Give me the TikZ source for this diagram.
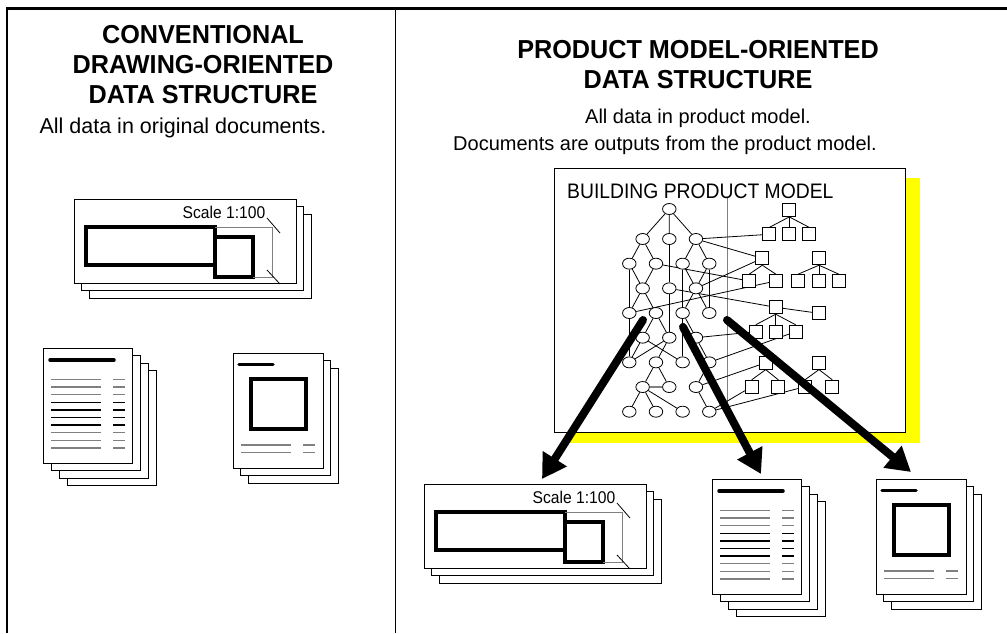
\documentclass[tikz,border=0pt]{standalone}
\usepackage{fontspec}
\setmainfont{Liberation Sans}
\usetikzlibrary{arrows.meta,shapes.geometric}
\pgfdeclarelayer{back}
\pgfdeclarelayer{edges}
\pgfsetlayers{back,edges,main}

\definecolor{shadowyellow}{RGB}{255,255,0}
\colorlet{dimgray}{black!50}

\tikzset{
  obj/.style={draw,ellipse,fill=white,inner sep=0pt,minimum width=13.5pt,minimum height=11pt,line width=0.8pt},
  geo/.style={draw,rectangle,fill=white,inner sep=0pt,minimum size=13pt,line width=0.8pt},
  sheet/.style={draw,fill=white,line width=0.8pt},
  thickline/.style={line width=3.5pt,line cap=round},
  heading/.style={font=\bfseries\fontsize{26}{30}\selectfont,align=center,xscale=0.97},
  subtext/.style={font=\fontsize{20}{24}\selectfont},
  bigarrow/.style={line width=8pt,line cap=round,-{Triangle[length=24pt,width=27pt]}},
}

% wide plan sheet, three deep
\newcommand{\planstack}[3]{%
\begin{scope}[shift={(#1,#2)}]
\draw[sheet] (15,15) rectangle ++(222,84);
\draw[sheet] (7.5,7.5) rectangle ++(222,84);
\draw[sheet] (0,0) rectangle (222,84);
\draw[line width=3.5pt] (12,28) rectangle (141,66);
\draw[line width=3.5pt,fill=white] (141,38) rectangle (179,78);
\draw[dimgray,line width=0.8pt] (141,28) -- (198,28) -- (198,78) -- (179,78);
\draw[line width=0.8pt] (193,19) -- (206,34);
\draw[line width=0.8pt] (193,71) -- (206,85);
\node[font=\fontsize{17}{17}\selectfont,xscale=0.92] (#3) at (150,13) {Scale 1:100};
\end{scope}}

% text sheet, four deep
\newcommand{\liststack}[2]{%
\begin{scope}[shift={(#1,#2)}]
\foreach \k in {3,2,1}
  \draw[sheet] (8*\k,7.6*\k) rectangle ++(89,115);
\draw[sheet] (0,0) rectangle (89,115);
\draw[thickline] (7,12) -- (71,12);
\foreach \r/\c in {0/dimgray,1/dimgray,2/dimgray,3/black,4/black,5/black,6/black,7/dimgray,8/dimgray,9/dimgray} {
  \draw[\c,line width=1.3pt] (8,31.5+7.6*\r) -- (58,31.5+7.6*\r);
  \draw[\c,line width=1.3pt] (70,31.5+7.6*\r) -- (82,31.5+7.6*\r);
}
\end{scope}}

% detail sheet, three deep
\newcommand{\detailstack}[2]{%
\begin{scope}[shift={(#1,#2)}]
\foreach \k in {2,1}
  \draw[sheet] (7.5*\k,7.5*\k) rectangle ++(90,115);
\draw[sheet] (0,0) rectangle (90,115);
\draw[thickline] (6,11.5) -- (40,11.5);
\draw[line width=3.5pt] (18,26) rectangle (73,76);
\draw[dimgray,line width=1.3pt] (8,92) -- (58,92) (8,99.5) -- (58,99.5)
  (70,92) -- (82,92) (70,99.5) -- (82,99.5);
\end{scope}}

\begin{document}
\begin{tikzpicture}[x=1pt,y=-1pt]
\useasboundingbox (0,0) rectangle (1007,633);

% frame
\draw[line width=2.2pt] (7,633) -- (7,8.5) -- (1007,8.5);
\draw[line width=1.8pt] (395.5,8.5) -- (395.5,633);

% left half
\node[heading] (lefttitle) at (203,65) {CONVENTIONAL\\DRAWING-ORIENTED\\DATA STRUCTURE};
\node[subtext,font=\fontsize{21.5}{24}\selectfont] (leftnote) at (183,128) {All data in original documents.};
\planstack{74}{199}{leftscale}
\liststack{43}{348}
\detailstack{233}{353}

% right half
\node[heading] (righttitle) at (698,64.5) {PRODUCT MODEL-ORIENTED\\DATA STRUCTURE};
\node[subtext] (rightnote) at (698,118) {All data in product model.};
\node[subtext] (rightnotetwo) at (665,145) {Documents are outputs from the product model.};

\begin{pgfonlayer}{back}
\fill[shadowyellow] (569,178) rectangle (920,443);
\draw[fill=white,line width=0.8pt] (554,168) rectangle (905,432);
\draw[dimgray,line width=1pt] (727.3,198) -- (727.3,410);
\end{pgfonlayer}
\node[anchor=base west,font=\fontsize{21}{21}\selectfont,xscale=0.92,inner sep=0pt] (modelname) at (567,198) {BUILDING PRODUCT MODEL};

% object graph
\node[obj] (a) at (669.3,209) {};
\foreach \n/\c/\r in {b1/1/1,b2/3/1,b3/5/1,
  c1/0/2,c2/2/2,c3/4/2,c4/6/2,
  d1/1/3,d2/3/3,d3/5/3,
  e1/0/4,e2/2/4,e3/4/4,e4/6/4,
  f1/1/5,f2/3/5,f3/5/5,
  g1/0/6,g2/2/6,g3/4/6,g4/6/6,
  h1/1/7,h2/3/7,h3/5/7,
  i1/0/8,i2/2/8,i3/4/8,i4/6/8}
  \node[obj] (\n) at ({629.3+13.33*\c},{239+24.67*(\r-1)}) {};

% geometry trees
\foreach \n/\x/\y in {A0/789.3/210,A1/769.3/234.3,A2/789.3/234.3,A3/809.3/234.3,
  B0/762.3/258.3,B1/749.3/281,B2/775.7/281,
  C0/819/258.3,C1/798.3/281,C2/819/281,C3/838.7/281,
  D0/775.7/307.3,Dx/819/313.3,D1/755.7/331.7,D2/775.7/331.7,D3/795.7/331.7,
  E0/765.7/362.7,E1/751.7/386.7,E2/778.3/386.7,
  F0/819/362.7,F1/805/386.7,F2/832.3/386.7}
  \node[geo] (\n) at (\x,\y) {};

\begin{pgfonlayer}{edges}
\foreach \p/\q in {a/b1,a/b2,a/b3,b1/c1,b1/c2,b2/d2,b3/c3,b3/c4,
  c1/d1,c2/d1,c3/d3,c4/d3,c1/e1,c3/e3,c4/e4,d2/f2,
  d1/e1,d1/e2,d3/e3,d3/e4,e1/g1,e3/g3,
  e2/f1,e2/f2,e3/f3,f1/g1,f1/g3,f2/g1,f2/g2,f3/g4,
  g2/h1,g2/h2,h1/i1,h1/i2,h1/i3,g4/h3,h3/i4}
  \draw[line width=0.8pt] (\p) -- (\q);
\draw[dimgray,line width=1.2pt] (h1) -- (h2);
\foreach \p/\q in {A0/A1,A0/A2,A0/A3,B0/B1,B0/B2,C0/C1,C0/C2,C0/C3,
  D0/D1,D0/D2,D0/D3,E0/E1,E0/E2,F0/F1,F0/F2}
  \draw[line width=0.8pt] (\p.south) -- (\q.north);
\foreach \p/\q in {b3/A1,b3/B0,c2/B1,d3/B0,e1/B2,d2/D0,D0/Dx,
  f3/D1,g4/D3,h3/E0,i4/E1,i4/F1}
  \draw[line width=0.8pt] (\p) -- (\q);
\end{pgfonlayer}

% right half documents
\planstack{424}{484}{rightscale}
\liststack{712}{479}
\detailstack{876}{479}

% output arrows
\coordinate (tailplan) at (643,320);
\coordinate (tiplan) at (542,479);
\coordinate (taillist) at (683,327);
\coordinate (tiplist) at (761,474);
\coordinate (taildetail) at (727,320);
\coordinate (tipdetail) at (911,472);
\draw[bigarrow] (tailplan) -- (tiplan);
\draw[bigarrow] (taillist) -- (tiplist);
\draw[bigarrow] (taildetail) -- (tipdetail);
\end{tikzpicture}
\end{document}
